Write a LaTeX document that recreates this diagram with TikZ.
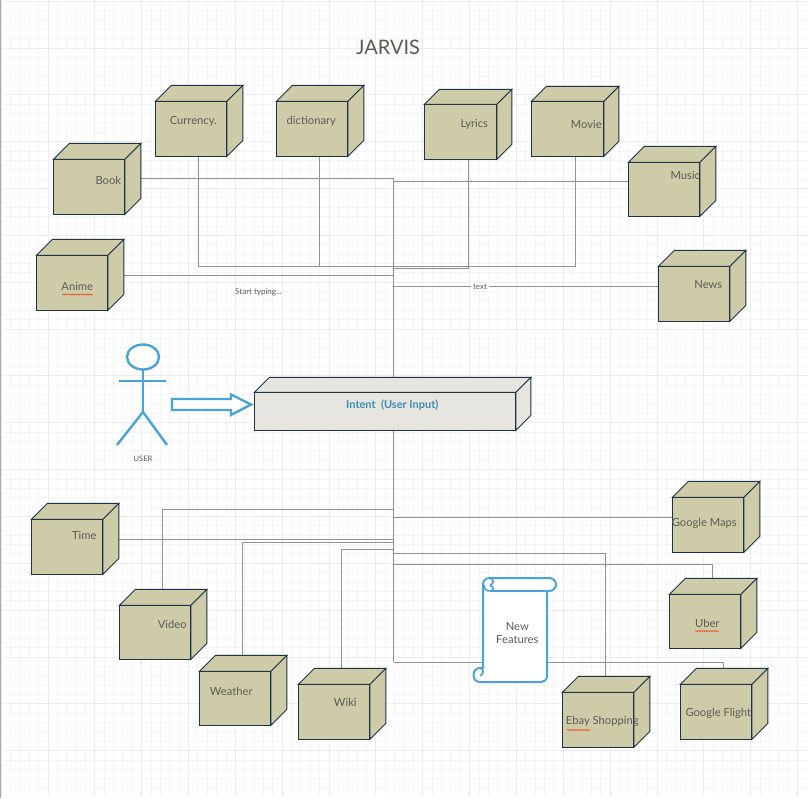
\documentclass[tikz,border=0pt]{standalone}
\usepackage{fontspec}
\setmainfont{Lato}
\usetikzlibrary{backgrounds,decorations.pathmorphing}
\definecolor{cubefill}{HTML}{CDCBA8}
\definecolor{cubeline}{HTML}{1E3343}
\definecolor{intentfill}{HTML}{E6E5DF}
\definecolor{connline}{HTML}{929292}
\definecolor{bluestroke}{HTML}{4AA3D6}
\definecolor{labelgray}{HTML}{5C5C55}
\definecolor{gridminor}{HTML}{F4F5F6}
\definecolor{gridmajor}{HTML}{EAECEE}
\tikzset{
  cubeface/.style={draw=cubeline,line width=.85pt,line join=miter},
  cubearea/.style={rectangle,inner sep=0pt,outer sep=0pt,anchor=north west},
  conn/.style={draw=connline,line width=1pt},
  lab/.style={text=labelgray,font=\fontsize{11.2}{13.2}\selectfont,inner sep=0pt,align=center,xshift=.3pt,yshift=-.8pt},
  tiny/.style={text=labelgray,font=\fontsize{8}{10}\selectfont,inner sep=0pt},
  bluepen/.style={draw=bluestroke,line width=2.4pt},
  squiggle/.style={draw=red!60!orange,line width=.5pt,decorate,decoration={snake,amplitude=.6pt,segment length=2.5pt}}
}
% optional fill; name, x0, y0, x1, y1, depth (front rectangle + depth)
\newcommand\mkcube[7][cubefill]{%
  \node[cubearea,minimum width={#5-#3+#7-.5},minimum height={#6-#4+#7}] (#2) at (#3+.4,#4-#7+.4) {};
  \path[cubeface,fill=#1] (#3+.4,#4+.4) -- (#3+#7+.4,#4-#7+.4) -- (#5+#7-.1,#4-#7+.4) -- (#5-.1,#4+.4) -- cycle;
  \path[cubeface,fill=#1] (#5-.1,#4+.4) -- (#5+#7-.1,#4-#7+.4) -- (#5+#7-.1,#6-#7+.4) -- (#5-.1,#6+.4) -- cycle;
  \path[cubeface,fill=#1] (#3+.4,#4+.4) rectangle (#5-.1,#6+.4);
}
\begin{document}
\begin{tikzpicture}[x=1pt,y=-1pt]
\useasboundingbox (0,0) rectangle (811,798);
% grid
\begin{pgfonlayer}{background}
\fill[white] (0,0) rectangle (811,798);
\foreach \i in {0,...,85}{
  \pgfmathsetmacro\p{1+9.37*\i}
  \pgfmathtruncatemacro\m{mod(\i,5)}
  \ifnum\m=0 \def\gc{gridmajor}\else \def\gc{gridminor}\fi
  \draw[\gc,line width=.7pt] (\p,0) -- (\p,796);
  \ifdim\p pt<797pt \draw[\gc,line width=.7pt] (0,\p) -- (808,\p);\fi
}
\draw[gray!70,line width=1.2pt] (0.6,0) -- (0.6,798);
\end{pgfonlayer}

\mkcube{book}{53}{159}{125}{214}{16}
\mkcube{currency}{155}{101}{227}{156}{16}
\mkcube{dictionary}{276}{101}{348}{156}{16}
\mkcube{lyrics}{424}{104}{497}{159}{15}
\mkcube{movie}{531}{101}{604}{156}{15}
\mkcube{music}{628}{162}{700}{216}{16}
\mkcube{anime}{36}{255}{108}{310}{16}
\mkcube{news}{658}{266}{730}{321}{16}
\mkcube[intentfill]{intent}{254}{392}{516}{430}{15}
\mkcube{time}{31}{519}{103}{574}{16}
\mkcube{video}{119}{605}{191}{659}{16}
\mkcube{weather}{199}{671}{271}{725}{16}
\mkcube{wiki}{298}{684}{370}{739}{16}
\mkcube{gmaps}{672}{497}{744}{552}{16}
\mkcube{uber}{669}{594}{741}{648}{16}
\mkcube{ebay}{562}{692}{634}{747}{16}
\mkcube{gflight}{680}{684}{752}{739}{16}

\coordinate (upTop) at (393.5,178.5);
\coordinate (loBot) at (393.5,662);

\begin{pgfonlayer}{background}
% upper trunk
\draw[conn] (book.east |- 0,178.5) -- (upTop) -- (intent.north -| upTop);
\draw[conn] (music.west |- 0,181.5) -- (upTop |- 0,181.5);
\draw[conn] (currency.south -| 198.5,0) -- (198.5,266.5) -- (575.5,266.5) -- (movie.south -| 575.5,0);
\draw[conn] (dictionary.south -| 319.5,0) -- (319.5,266.5);
\draw[conn] (lyrics.south -| 468.5,0) -- (468.5,268.5) -- (upTop |- 0,268.5);
\draw[conn] (anime.east |- 0,275.5) -- (upTop |- 0,275.5);
% lower trunk
\draw[conn] (intent.south -| loBot) -- (loBot);
\draw[conn] (video.north -| 162.5,0) -- (162.5,509.5) -- (loBot |- 0,509.5);
\draw[conn] (gmaps.west |- 0,517.5) -- (loBot |- 0,517.5);
\draw[conn] (time.east |- 0,539.5) -- (loBot |- 0,539.5);
\draw[conn] (weather.north -| 242.5,0) -- (242.5,542.5) -- (loBot |- 0,542.5);
\draw[conn] (wiki.north -| 341.5,0) -- (341.5,549.5) -- (loBot |- 0,549.5);
\draw[conn] (ebay.north -| 605.5,0) -- (605.5,553.5) -- (loBot |- 0,553.5);
\draw[conn] (uber.north -| 712.5,0) -- (712.5,564.5) -- (loBot |- 0,564.5);
\draw[conn] (gflight.north -| 723.5,0) -- (723.5,662.5) -- (loBot |- 0,662.5);
\end{pgfonlayer}
% news connector with label
\node[tiny,fill=white,inner xsep=2pt,inner ysep=1pt] (newsT) at (480,286.5) {text};
\begin{pgfonlayer}{background}
\draw[conn] (news.west |- newsT) -- (upTop |- newsT);
\end{pgfonlayer}

% labels
\node[lab] (bookT) at (108,180) {Book};
\node[lab] (currencyT) at (193,121) {Currency.};
\node[lab] (dictionaryT) at (311,121) {dictionary};
\node[lab] (lyricsT) at (474,124) {Lyrics};
\node[lab] (movieT) at (586,124) {Movie};
\node[lab] (musicT) at (685,175) {Music};
\node[lab] (animeT) at (77,286) {Anime};
\node[lab] (newsL) at (708,284) {News};
\node[lab,text=bluestroke!85!black,font=\fontsize{11}{14}\selectfont\bfseries] (intentT) at (392,404) {Intent\ \ (User Input)};
\node[lab] (timeT) at (84,535) {Time};
\node[lab] (videoT) at (172,624) {Video};
\node[lab] (weatherT) at (231,691) {Weather};
\node[lab] (wikiT) at (345,702) {Wiki};
\node[lab] (gmapsT) at (704,523) {Google Maps};
\node[lab] (uberT) at (707,623) {Uber};
\node[lab] (ebayT) at (602,721) {Ebay Shopping};
\node[lab] (gflightT) at (718,713) {Google Flight};
\node[tiny,xshift=.5pt,yshift=-.5pt] (startT) at (258,292) {Start typing...};
\node[text=labelgray,font=\fontsize{20}{24}\selectfont,inner sep=0pt] (title) at (388,47) {JARVIS};
% spell-check squiggles
\draw[squiggle] (62,294.5) -- (93,294.5);
\draw[squiggle] (695,631) -- (719,631);
\draw[squiggle] (567,730) -- (590,730);

% user
\draw[bluepen,fill=white] (143,357) ellipse [x radius=16,y radius=12.5];
\draw[bluepen] (143,369.5) -- (143,412) coordinate (hip);
\draw[bluepen] (119,381) -- (166,381);
\draw[bluepen] (117,445) -- (hip) -- (167,445);
\node[tiny,font=\fontsize{7.5}{9}\selectfont,yshift=-.7pt] (userT) at (143,458) {USER};
% hollow arrow
\draw[bluepen,fill=white,line join=miter] (172,399) -- (231,399) -- (231,394.5) -- (251,404.5) -- (231,415) -- (231,410) -- (172,410) -- cycle;

% scroll
\draw[bluepen,fill=white,line width=2pt,line join=round]
  (483,585) .. controls (483,580) and (486,578) .. (490,578)
  -- (549,578) .. controls (553,578) and (556,581) .. (556,584.5)
  .. controls (556,588) and (553,591) .. (549,591) -- (547,591)
  -- (547,676) .. controls (547,680) and (544,682) .. (541,682)
  -- (480,682) .. controls (476,682) and (473.5,679) .. (473.5,675)
  .. controls (473.5,671) and (476,668) .. (480,668) -- (483,668) -- cycle;
\draw[bluepen,line width=1.6pt] (491,591) -- (547,591);
% top curl
\draw[bluepen,line width=1.6pt] (491,578.5) .. controls (494,580) and (494,584) .. (490,585)
  (491,591) .. controls (486,591.5) and (483.5,588) .. (484,585);
\draw[bluepen,line width=1.6pt] (491,591) .. controls (494,590) and (494,586.5) .. (490,585.5);
% bottom curl
\draw[bluepen,line width=1.6pt] (481,668.5) .. controls (484,670) and (484,674) .. (480,676);
\node[lab] (scrollT) at (517,632.5) {New\\Features};
\end{tikzpicture}
\end{document}
